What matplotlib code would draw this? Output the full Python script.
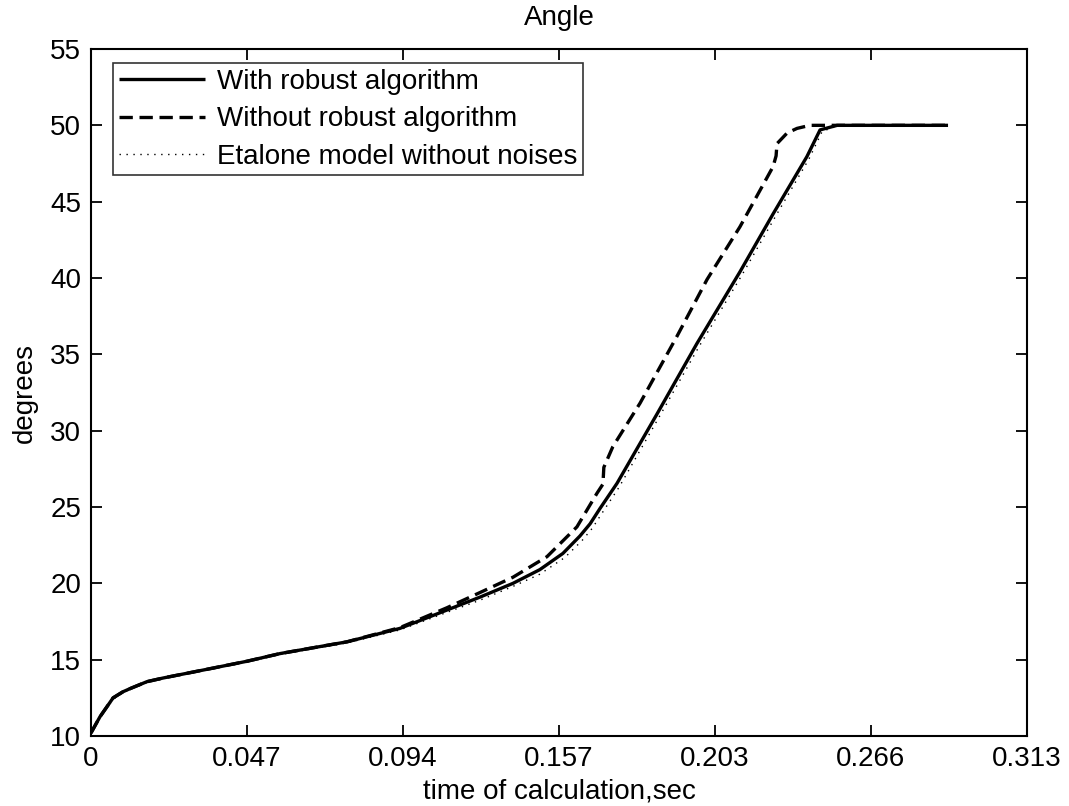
import matplotlib
matplotlib.use("Agg")
import matplotlib.pyplot as plt

plt.rcParams['font.family'] = ['Liberation Sans', 'DejaVu Sans']

# Time (s) and angle (degrees)
t_robust = [0.0, 0.0030, 0.0074, 0.0107, 0.0130, 0.0187, 0.0241, 0.0408, 0.0522,
            0.0632, 0.0856, 0.1033, 0.1190, 0.1301, 0.1411, 0.1501, 0.1578,
            0.1635, 0.1669, 0.1702, 0.1759, 0.1893, 0.2026, 0.2170, 0.2281,
            0.2394, 0.2438, 0.2495, 0.2866]
a_robust = [10.2, 11.26, 12.5, 12.9, 13.1, 13.56, 13.8, 14.45, 14.9,
            15.4, 16.17, 17.05, 18.25, 19.1, 20.0, 20.9, 21.96,
            23.1, 23.9, 24.9, 26.55, 31.1, 35.7, 40.4, 44.2,
            47.95, 49.7, 50.0, 50.0]

t_plain = [0.0, 0.0030, 0.0074, 0.0107, 0.0130, 0.0187, 0.0241, 0.0408, 0.0522,
           0.0632, 0.0856, 0.1033, 0.1190, 0.1301, 0.1411, 0.1525, 0.1625,
           0.1692, 0.1712, 0.1715, 0.1745, 0.1836, 0.1960, 0.2060, 0.2170,
           0.2281, 0.2291, 0.2294, 0.2328, 0.2361, 0.2404, 0.2866]
a_plain = [10.2, 11.26, 12.5, 12.9, 13.1, 13.56, 13.8, 14.45, 14.9,
           15.4, 16.17, 17.1, 18.4, 19.4, 20.4, 21.75, 23.7,
           25.9, 26.5, 27.6, 28.95, 31.8, 36.2, 39.9, 43.35,
           47.3, 48.0, 48.8, 49.5, 49.8, 50.0, 50.0]

t_etalone = [0.0, 0.0030, 0.0074, 0.0107, 0.0130, 0.0187, 0.0241, 0.0408, 0.0522,
             0.0632, 0.0856, 0.1033, 0.1190, 0.1301, 0.1411, 0.1501, 0.1585,
             0.1642, 0.1676, 0.1709, 0.1766, 0.1900, 0.2033, 0.2177, 0.2288,
             0.2401, 0.2445, 0.2500, 0.2866]
a_etalone = [10.2, 11.2, 12.4, 12.85, 13.05, 13.5, 13.75, 14.4, 14.85,
             15.35, 16.1, 16.95, 18.1, 18.9, 19.8, 20.6, 21.7,
             22.8, 23.6, 24.6, 26.3, 30.9, 35.5, 40.2, 44.0,
             47.8, 49.6, 50.0, 50.0]

xtick_labels = ['0', '0.047', '0.094', '0.157', '0.203', '0.266', '0.313']
ytick_values = [10, 15, 20, 25, 30, 35, 40, 45, 50, 55]

fig = plt.figure(figsize=(10.69, 8.06), dpi=100)
ax = fig.add_axes([0.0851, 0.0868, 0.8756, 0.8524])

ax.plot(t_robust, a_robust, color='black', lw=2.4, solid_capstyle='butt',
        label='With robust algorithm')
ax.plot(t_plain, a_plain, color='black', lw=2.4, dashes=(4, 2),
        label='Without robust algorithm')
ax.plot(t_etalone, a_etalone, color='black', lw=1.0, dashes=(1, 4),
        label='Etalone model without noises')

ax.set_xlim(0, 0.313)
ax.set_ylim(10, 55)
xt = [0.313 * i / 6 for i in range(7)]
ax.set_xticks(xt)
ax.set_xticklabels(xtick_labels)
ax.set_yticks(ytick_values)

fs = 20
ax.tick_params(direction='in', length=8, width=1.3, top=True, right=True,
               labelsize=fs, pad=7)
for s in ax.spines.values():
    s.set_linewidth(1.5)

ax.set_title('Angle', fontsize=fs, pad=17)
ax.set_xlabel('time of calculation,sec', fontsize=fs, labelpad=5)
ax.set_ylabel('degrees', fontsize=fs, labelpad=9)

leg = ax.legend(loc='upper left', bbox_to_anchor=(0.0235, 0.9796),
                borderaxespad=0.0, fontsize=fs, frameon=True, fancybox=False,
                edgecolor='black', handlelength=3.1, labelspacing=0.42,
                handletextpad=0.45, borderpad=0.2)
leg.get_frame().set_linewidth(1.2)

fig.savefig('out.png', dpi=100, facecolor='white')
